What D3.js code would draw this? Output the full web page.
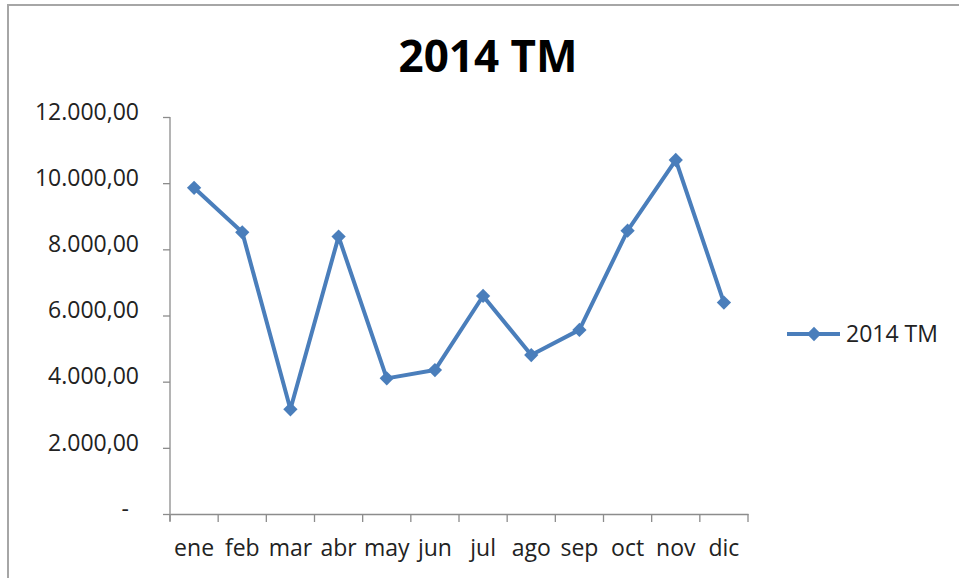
<!DOCTYPE html>
<html>
<head>
<meta charset="utf-8">
<script src="https://cdn.jsdelivr.net/npm/d3@7"></script>
<style>
  body { margin: 0; background: #fff; }
  svg { display: block; font-family: "Open Sans", sans-serif; }
</style>
</head>
<body>
<svg id="chart" width="959" height="578"></svg>
<script>
// data
let months = ['ene', 'feb', 'mar', 'abr', 'may', 'jun', 'jul', 'ago', 'sep', 'oct', 'nov', 'dic']
let values = [9860, 8515, 3165, 8385, 4100, 4350, 6590, 4805, 5565, 8565, 10700, 6390]
let yTicks = [0, 2000, 4000, 6000, 8000, 10000, 12000]
let seriesName = '2014 TM'

let color = '#4a7ebb'
let font = '"Open Sans", sans-serif'
let width = 959
let height = 578
let margin = {top: 117, right: 211, bottom: 64, left: 170}

const svg = d3.select('#chart')

// outer frame of the chart
svg.append('rect')
  .attr('x', 8).attr('y', 5)
  .attr('width', 980).attr('height', 600)
  .attr('fill', 'none')
  .attr('stroke', '#a6a6a6')
  .attr('stroke-width', 2)

let x = d3.scaleBand()
  .domain(months)
  .range([margin.left, width - margin.right])

let y = d3.scaleLinear()
  .domain([0, 12000])
  .range([height - margin.bottom, margin.top])

let fmt = v => v === 0 ? '-' : d3.formatLocale({decimal: ',', thousands: '.', grouping: [3]}).format(',.2f')(v)

// y axis with grid
let yAxis = g => g
  .attr('transform', `translate(${margin.left},0)`)
  .call(d3.axisLeft(y).tickValues(yTicks).tickFormat(fmt).tickSize(-(width - margin.left - margin.right)).tickPadding(31))
  .attr('font-family', font)
  .call(g => g.select('.domain').remove())
  .call(g => g.selectAll('.tick line').attr('stroke', '#8c8c8c').attr('stroke-width', 1.3).attr('x2', -7))
  .call(g => g.selectAll('.tick text').attr('font-size', 23).attr('fill', '#222').attr('dy', '0.1em'))
  // accounting format: the dash for zero sits left of the decimals
  .call(g => g.selectAll('.tick text').filter(d => d === 0).attr('dx', -10))

svg.append('g').call(yAxis)

// vertical axis line
svg.append('line')
  .attr('x1', margin.left).attr('x2', margin.left)
  .attr('y1', y(12000)).attr('y2', y(0) + 7)
  .attr('stroke', '#8c8c8c').attr('stroke-width', 1.3)

// x axis
let xAxis = g => g
  .attr('transform', `translate(0,${y(0)})`)
  .call(d3.axisBottom(x).tickSize(0).tickPadding(26))
  .attr('font-family', font)
  .call(g => g.select('.domain').attr('stroke', '#8c8c8c').attr('stroke-width', 1.3))
  .call(g => g.selectAll('.tick text').attr('font-size', 23).attr('fill', '#222'))

svg.append('g').call(xAxis)

// category boundary ticks
svg.append('g')
  .selectAll('line')
  .data(months.concat(['end']))
  .join('line')
    .attr('x1', (d, i) => i < months.length ? x(d) : x(months[months.length - 1]) + x.bandwidth())
    .attr('x2', (d, i) => i < months.length ? x(d) : x(months[months.length - 1]) + x.bandwidth())
    .attr('y1', y(0)).attr('y2', y(0) + 8)
    .attr('stroke', '#8c8c8c').attr('stroke-width', 1.3)

// line
let line = d3.line()
  .x((d, i) => x(months[i]) + x.bandwidth() / 2)
  .y(d => y(d))

svg.append('path')
  .datum(values)
  .attr('d', line)
  .attr('fill', 'none')
  .attr('stroke', color)
  .attr('stroke-width', 4)
  .attr('stroke-linejoin', 'round')

let diamond = d3.symbol().type(d3.symbolDiamond2).size(130)

svg.append('g')
  .selectAll('path')
  .data(values)
  .join('path')
    .attr('transform', (d, i) => `translate(${x(months[i]) + x.bandwidth() / 2},${y(d)})`)
    .attr('d', diamond)
    .attr('fill', color)

// title
svg.append('text')
  .attr('x', 488).attr('y', 72)
  .attr('text-anchor', 'middle')
  .attr('font-size', 44)
  .attr('font-weight', 'bold')
  .attr('fill', '#000')
  .text(seriesName)

// legend
let legend = svg.append('g').attr('transform', 'translate(787,334)')
legend.append('line')
  .attr('x1', 0).attr('x2', 53)
  .attr('stroke', color).attr('stroke-width', 4)
legend.append('path')
  .attr('transform', 'translate(27,0)')
  .attr('d', diamond)
  .attr('fill', color)
legend.append('text')
  .attr('x', 59).attr('dy', '0.35em')
  .attr('font-size', 23)
  .attr('fill', '#222')
  .text(seriesName)
</script>
</body>
</html>
